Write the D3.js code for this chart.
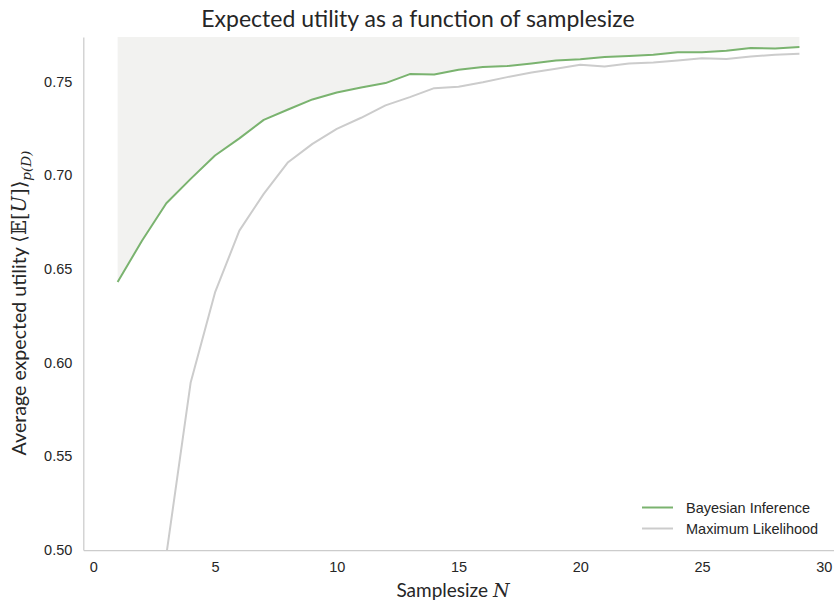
<!DOCTYPE html>
<html>
<head>
<meta charset="utf-8">
<script src="https://cdn.jsdelivr.net/npm/d3@7"></script>
<style>
  body { margin: 0; background: #fff; }
  svg { display: block; }
</style>
</head>
<body>
<div id="chart"></div>
<script>
// sample sizes and expected utility per method
var samplesize = d3.range(1, 30);
var bayesian = [0.643, 0.665, 0.685, 0.698, 0.7105, 0.7196, 0.7295, 0.735, 0.7404, 0.7441,
    0.7468, 0.7491, 0.7539, 0.7537, 0.7562, 0.7577, 0.7582, 0.7596, 0.7611, 0.7618,
    0.763, 0.7635, 0.7642, 0.7655, 0.7655, 0.7664, 0.7678, 0.7675, 0.7683];
var maxLikelihood = [0.30, 0.42, 0.4974, 0.5894, 0.6374, 0.6704, 0.690, 0.7069, 0.7167, 0.7247,
    0.7306, 0.7372, 0.7416, 0.7464, 0.7472, 0.7496, 0.7523, 0.7548, 0.7568, 0.7589,
    0.758, 0.7596, 0.7601, 0.7612, 0.7624, 0.7619, 0.7633, 0.7642, 0.7648];
var xTicks = [0, 5, 10, 15, 20, 25, 30];
var yTicks = [0.50, 0.55, 0.60, 0.65, 0.70, 0.75];
var seriesNames = ["Bayesian Inference", "Maximum Likelihood"];

const width = 834, height = 603;
const green = "#7ab36f", grey = "#cccccc", fillCol = "#f2f2f0";
const tickFont = 'Liberation Sans, Arial, sans-serif';

var svg = d3.select('#chart').append('svg')
    .attr('width', width).attr('height', height);

var x = d3.scaleLinear().domain([-0.41, 30.42]).range([83.3, 834]);
var y = d3.scaleLinear().domain([0.5, 0.7737]).range([550, 37]);
var yTop = y.domain()[1];

svg.append('clipPath').attr('id', 'clip')
  .append('rect')
    .attr('x', x.range()[0]).attr('y', y.range()[1])
    .attr('width', x.range()[1] - x.range()[0])
    .attr('height', y.range()[0] - y.range()[1]);

var plot = svg.append('g').attr('clip-path', 'url(#clip)');

// shaded area above bayesian curve
var area = d3.area()
    .x(function(d, i) { return x(samplesize[i]); })
    .y0(function() { return y(yTop); })
    .y1(function(d) { return y(d); });
plot.append('path').datum(bayesian)
    .attr('d', area).attr('fill', fillCol);

var line = d3.line()
    .x(function(d, i) { return x(samplesize[i]); })
    .y(function(d) { return y(d); });

plot.append('path').datum(maxLikelihood)
    .attr('d', line).attr('fill', 'none')
    .attr('stroke', grey).attr('stroke-width', 2).attr('stroke-linejoin', 'round');
plot.append('path').datum(bayesian)
    .attr('d', line).attr('fill', 'none')
    .attr('stroke', green).attr('stroke-width', 2).attr('stroke-linejoin', 'round');

// axes
var xAxis = svg.append('g').attr('transform', 'translate(0,' + y.range()[0] + ')')
    .call(d3.axisBottom(x).tickValues(xTicks).tickSize(0).tickPadding(12).tickFormat(d3.format('d')));
var yAxis = svg.append('g').attr('transform', 'translate(' + x.range()[0] + ',0)')
    .call(d3.axisLeft(y).tickValues(yTicks).tickSize(0).tickPadding(11).tickFormat(d3.format('.2f')));
[xAxis, yAxis].forEach(function(a) {
    a.select('.domain').attr('stroke', '#cccccc').attr('stroke-width', 1.25);
    a.selectAll('text').attr('font-family', tickFont)
        .attr('font-size', 14.5).attr('fill', '#262626');
});

// title and labels
svg.append('text')
    .attr('x', 418).attr('y', 27).attr('text-anchor', 'middle')
    .attr('font-family', 'Lato, sans-serif').attr('font-size', 23).attr('fill', '#262626')
    .text('Expected utility as a function of samplesize');

var xl = svg.append('text')
    .attr('x', 453).attr('y', 597).attr('text-anchor', 'middle')
    .attr('font-family', 'Lato, sans-serif').attr('font-size', 19).attr('fill', '#262626');
xl.append('tspan').text('Samplesize ');
xl.append('tspan').attr('font-family', 'DejaVu Serif, serif').attr('font-style', 'italic').text('N');

var yl = svg.append('text')
    .attr('transform', 'translate(26,303) rotate(-90)').attr('text-anchor', 'middle')
    .attr('font-family', 'Lato, sans-serif').attr('font-size', 19.6).attr('fill', '#262626');
yl.append('tspan').text('Average expected utility ');
yl.append('tspan').attr('font-family', 'DejaVu Serif, serif').text('\u27E8\uD835\uDD3C[');
yl.append('tspan').attr('font-family', 'DejaVu Serif, serif').attr('font-style', 'italic').text('U');
yl.append('tspan').attr('font-family', 'DejaVu Serif, serif').text(']\u27E9');
yl.append('tspan').attr('font-family', 'DejaVu Serif, serif').attr('font-style', 'italic')
    .attr('font-size', 13.5).attr('dy', 5).text('p(D)');

// legend
var legend = svg.append('g').attr('transform', 'translate(642,507.5)');
seriesNames.forEach(function(name, i) {
    var g = legend.append('g').attr('transform', 'translate(0,' + i * 21 + ')');
    g.append('line').attr('x1', 0).attr('x2', 31)
        .attr('stroke', i == 0 ? green : grey).attr('stroke-width', 2);
    g.append('text').attr('x', 44).attr('y', 5)
        .attr('font-family', tickFont).attr('font-size', 14.5)
        .attr('fill', '#262626').text(name);
});
</script>
</body>
</html>
